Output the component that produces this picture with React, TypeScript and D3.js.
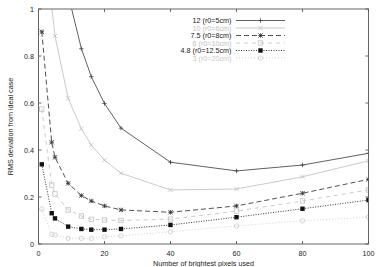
import React from "react";
import * as d3 from "d3";

const xs = [1, 4, 5, 9, 13, 16, 20, 25, 40, 60, 80, 100];
const s12 = [2.5, 1.6, 1.45, 1.06, 0.831, 0.712, 0.598, 0.493, 0.348, 0.311, 0.336, 0.386];
const s10 = [1.6, 1.01, 0.885, 0.62, 0.49, 0.421, 0.357, 0.301, 0.23, 0.234, 0.286, 0.354];
const s75 = [0.903, 0.433, 0.369, 0.258, 0.206, 0.183, 0.162, 0.145, 0.135, 0.162, 0.216, 0.275];
const s6 = [0.574, 0.251, 0.213, 0.145, 0.119, 0.105, 0.102, 0.1, 0.106, 0.14, 0.183, 0.23];
const s48 = [0.339, 0.131, 0.109, 0.074, 0.064, 0.061, 0.061, 0.064, 0.081, 0.114, 0.15, 0.187];
const s3 = [0.149, 0.041, 0.038, 0.024, 0.024, 0.024, 0.031, 0.035, 0.052, 0.077, 0.099, 0.114];
const labels = ["12 (r0=5cm)", "10 (r0=6cm)", "7.5 (r0=8cm)", "6 (r0=10cm)", "4.8 (r0=12.5cm)", "3 (r0=20cm)"];
const xTicks = [0, 20, 40, 60, 80, 100];
const yTicks = [0, 0.2, 0.4, 0.6, 0.8, 1];

const styles = [
  { color: "#444", text: "#222", dash: "", marker: "plus" },
  { color: "#c0c0c0", text: "#c0c0c0", dash: "", marker: "cross" },
  { color: "#333", text: "#222", dash: "5,3", marker: "star" },
  { color: "#c0c0c0", text: "#c0c0c0", dash: "4,4", marker: "box" },
  { color: "#111", text: "#222", dash: "1,1.5", marker: "fbox" },
  { color: "#cacaca", text: "#cacaca", dash: "1,2", marker: "circle" },
];
const series = [s12, s10, s75, s6, s48, s3];

const W = 382, H = 267;
const L = 38.5, R = 368.5, T = 9, B = 244;
const FONT = "'Liberation Sans', Arial, sans-serif";

function Marker({ type, x, y, color }: { type: string; x: number; y: number; color: string }) {
  const s = 2.2;
  const sw = 0.8;
  switch (type) {
    case "plus":
      return <path d={`M${x - s},${y}H${x + s}M${x},${y - s}V${y + s}`} stroke={color} strokeWidth={sw} fill="none" />;
    case "cross":
      return <path d={`M${x - s},${y - s}L${x + s},${y + s}M${x - s},${y + s}L${x + s},${y - s}`} stroke={color} strokeWidth={sw} fill="none" />;
    case "star":
      return <path d={`M${x - s},${y}H${x + s}M${x},${y - s}V${y + s}M${x - s},${y - s}L${x + s},${y + s}M${x - s},${y + s}L${x + s},${y - s}`} stroke={color} strokeWidth={sw} fill="none" />;
    case "box":
      return <rect x={x - s} y={y - s} width={2 * s} height={2 * s} stroke={color} strokeWidth={sw} fill="none" />;
    case "fbox":
      return <rect x={x - s} y={y - s} width={2 * s} height={2 * s} fill={color} />;
    default:
      return <circle cx={x} cy={y} r={s} stroke={color} strokeWidth={sw} fill="none" />;
  }
}

export default function App() {
  const x = d3.scaleLinear().domain([0, 100]).range([L, R]);
  const y = d3.scaleLinear().domain([0, 1]).range([B, T]);
  const line = d3.line<number>().x((_, i) => x(xs[i])).y((d) => y(d));
  const legendY0 = 20.5, legendDy = 7.5;

  return (
    <svg width={W} height={H} style={{ position: "absolute", left: 0, top: 0, background: "#fff" }} fontFamily={FONT}>
      <defs>
        <clipPath id="plot">
          <rect x={L} y={T} width={R - L} height={B - T} />
        </clipPath>
      </defs>
      <rect width={W} height={H} fill="#fff" />
      {xTicks.map((t) => (
        <g key={"x" + t}>
          <line x1={x(t)} x2={x(t)} y1={B} y2={B - 3} stroke="#555" strokeWidth={0.9} />
          <line x1={x(t)} x2={x(t)} y1={T} y2={T + 3} stroke="#555" strokeWidth={0.9} />
          <text x={x(t)} y={255.5} fontSize={7.2} textAnchor="middle" fill="#222">{t}</text>
        </g>
      ))}
      {yTicks.map((t) => (
        <g key={"y" + t}>
          <line x1={L} x2={L + 3} y1={y(t)} y2={y(t)} stroke="#555" strokeWidth={0.9} />
          <line x1={R} x2={R - 3} y1={y(t)} y2={y(t)} stroke="#555" strokeWidth={0.9} />
          <text x={34} y={y(t) + 2.5} fontSize={7.2} textAnchor="end" fill="#222">{t}</text>
        </g>
      ))}
      <g clipPath="url(#plot)">
        {series.map((s, k) => (
          <g key={k}>
            <path d={line(s) || ""} fill="none" stroke={styles[k].color} strokeWidth={0.85} strokeDasharray={styles[k].dash} />
            {s.map((v, i) =>
              v <= 1.02 ? <Marker key={i} type={styles[k].marker} x={x(xs[i])} y={y(v)} color={styles[k].color} /> : null
            )}
          </g>
        ))}
      </g>
      {labels.map((lab, k) => {
        const ly = legendY0 + k * legendDy;
        return (
          <g key={lab}>
            <text x={231.5} y={ly + 2.5} fontSize={7.2} textAnchor="end" fill={styles[k].text}>{lab}</text>
            <line x1={236} x2={285} y1={ly} y2={ly} stroke={styles[k].color} strokeWidth={0.85} strokeDasharray={styles[k].dash} />
            <Marker type={styles[k].marker} x={260.5} y={ly} color={styles[k].color} />
          </g>
        );
      })}
      <rect x={L} y={T} width={R - L} height={B - T} fill="none" stroke="#555" strokeWidth={0.9} />
      <text x={(L + R) / 2} y={265.5} fontSize={7.2} textAnchor="middle" fill="#222">Number of brightest pixels used</text>
      <text transform={`translate(12.5,${(T + B) / 2}) rotate(-90)`} fontSize={7.2} textAnchor="middle" fill="#222">RMS deviation from ideal case</text>
    </svg>
  );
}
